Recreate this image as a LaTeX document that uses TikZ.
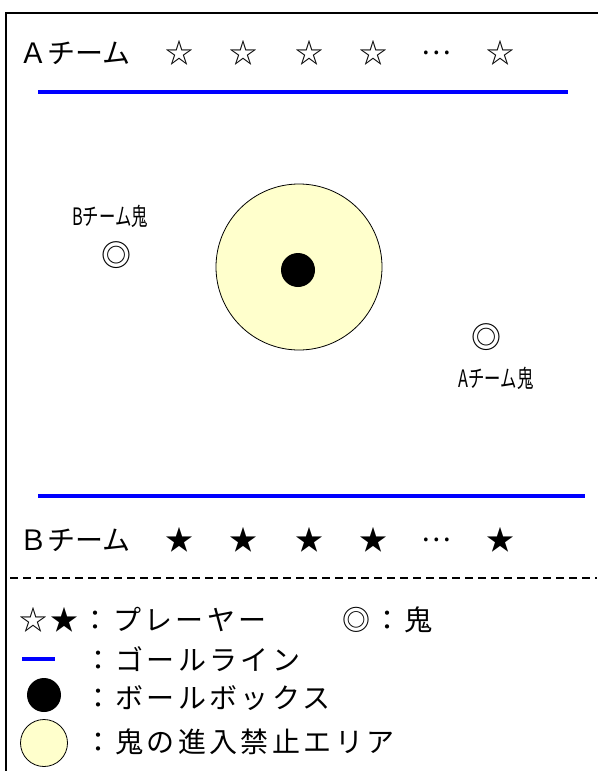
\documentclass[tikz,border=0pt]{standalone}
\usepackage{fontspec}
\setmainfont{Noto Sans CJK JP}
\newfontfamily\jpfont[LetterSpace=12]{Noto Sans CJK JP}
\newfontfamily\jplabel{Noto Sans CJK JP}

\begin{document}
\begin{tikzpicture}[x=1pt, y=-1pt, font=\jpfont\fontsize{28}{30}\selectfont]
  \definecolor{goalblue}{HTML}{0000FF}
  \definecolor{noentry}{HTML}{FFFFCC}
  \tikzset{
    goal/.style={draw=goalblue, line width=3.5pt},
    txt/.style={inner sep=0pt, anchor=west},
    team/.style={txt, font=\jplabel\fontsize{28}{30}\selectfont},
    onilabel/.style={inner sep=0pt, font=\jplabel\fontsize{24}{26}\selectfont},
    onimark/.style={inner sep=0pt, font=\jplabel\fontsize{30}{32}\selectfont},
    ball/.style={circle, fill=black, inner sep=0pt, minimum size=34pt},
    area/.style={circle, draw=black, line width=0.8pt, fill=noentry, inner sep=0pt}
  }
  \useasboundingbox (0,0) rectangle (597,771);

  % Frame (runs off the right and bottom edge)
  \draw[line width=2.5pt] (6,13) rectangle (605,780);

  % Team A row and goal line
  \node[team] (teamA) at (19,53) {Ａチーム};
  \foreach \x in {179,243,309,373,500}
    \node[inner sep=0pt] (starA\x) at (\x,53) {☆};
  \node[inner sep=0pt] (dotsA) at (436,53) {…};
  \draw[goal] (38,92) -- (568,92);

  % Field
  \node[area, minimum size=166pt] (noarea) at (299,267) {};
  \node[ball] (box) at (298,270) {};
  \node[onimark] (oniB) at (116,255) {◎};
  \node[onilabel] (oniBlabel) at (110,216) {\scalebox{0.68}[1]{Bチーム鬼}};
  \node[onimark] (oniA) at (486,337) {◎};
  \node[onilabel] (oniAlabel) at (496,378) {\scalebox{0.68}[1]{Aチーム鬼}};

  % Team B row and goal line
  \draw[goal] (38,496) -- (585,496);
  \node[team] (teamB) at (19,540) {Ｂチーム};
  \foreach \x in {179,243,309,373,500}
    \node[inner sep=0pt] (starB\x) at (\x,540) {★};
  \node[inner sep=0pt] (dotsB) at (436,540) {…};

  % Legend
  \draw[line width=1.5pt, dash pattern=on 8pt off 5pt] (10,578) -- (597,578);
  \node[txt] (legplayer) at (19,620) {☆★：プレーヤー};
  \node[txt] (legoni) at (342,620) {◎：鬼};
  \draw[goal] (22,659) -- (55,659);
  \node[txt] (leggoal) at (84,659) {：ゴールライン};
  \node[ball] (legball) at (44,695) {};
  \node[txt] (legbox) at (84,698) {：ボールボックス};
  \node[area, minimum size=47pt] (legarea) at (44,743) {};
  \node[txt] (legnoentry) at (84,742) {：鬼の進入禁止エリア};
\end{tikzpicture}
\end{document}
